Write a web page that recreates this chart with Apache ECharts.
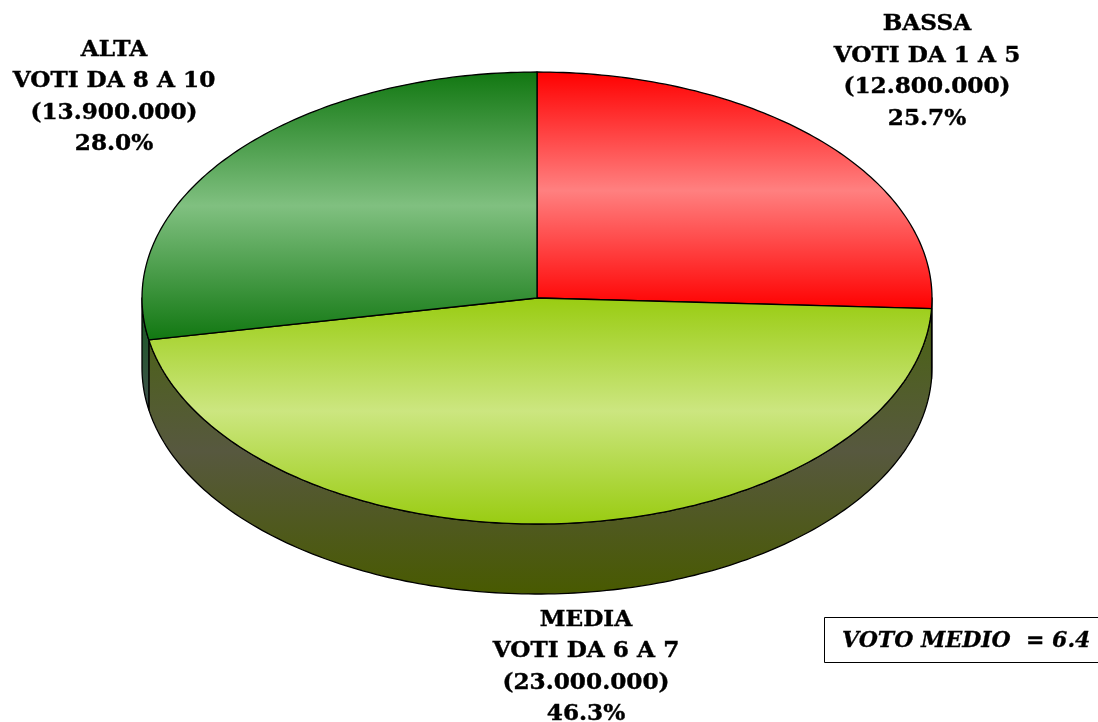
<!DOCTYPE html>
<html><head><meta charset="utf-8">
<style>html,body{margin:0;padding:0;background:#fff}#c{width:1098px;height:722px}</style>
<script src="https://cdn.jsdelivr.net/npm/echarts@6/dist/echarts.min.js"></script>
</head><body><div id="c"></div>
<script>
const categories = ['BASSA', 'MEDIA', 'ALTA'];
const voteRanges = ['VOTI DA 1 A 5', 'VOTI DA 6 A 7', 'VOTI DA 8 A 10'];
const voteCounts = [12800000, 23000000, 13900000];
const countLabels = ['(12.800.000)', '(23.000.000)', '(13.900.000)'];
const shareLabels = ['25.7%', '46.3%', '28.0%'];
const averageLabel = 'VOTO MEDIO  = 6.4';

const edgeColors = ['#ff0000', '#99cc11', '#117711'];
const midColors = ['#ff8080', '#cce680', '#80c080'];
const wallStops = [
  [[0, '#ff0000'], [1, '#aa0000']],
  [[0, '#4a6410'], [0.5, '#57583f'], [1, '#485a00']],
  [[0, '#14591e'], [1, '#40504c']]
];
const labelCentres = [[927, 71.5], [586, 667], [114, 97]];

const CX = 537, CY = 298, RX = 395, RY = 226, DEPTH = 70, FONT = '"DejaVu Serif", serif';
const total = voteCounts.reduce((a, b) => a + b, 0);
const pt = (t, dy) => [CX + RX * Math.sin(t), CY - RY * Math.cos(t) + (dy || 0)];
function arc(a, b, dy) {
  const n = Math.max(2, Math.ceil(Math.abs(b - a) * 60)), out = [];
  for (let i = 0; i <= n; i++) out.push(pt(a + (b - a) * i / n, dy));
  return out;
}
function span(api, idx) {
  let before = 0;
  for (let i = 0; i < idx; i++) before += voteCounts[i];
  const v = api.value(0);
  return [before / total * 2 * Math.PI, (before + v) / total * 2 * Math.PI];
}
const line = { stroke: '#000', lineWidth: 1.3, lineJoin: 'round' };
const grad = stops => ({ type: 'linear', x: 0, y: 0, x2: 0, y2: 1,
  colorStops: stops.map(s => ({ offset: s[0], color: s[1] })) });

function renderWall(params, api) {
  const [a, b] = span(api, params.dataIndex);
  const lo = Math.max(a, Math.PI / 2), hi = Math.min(b, 3 * Math.PI / 2);
  if (hi <= lo) return { type: 'group', children: [] };
  const pts = arc(lo, hi, 0).concat(arc(hi, lo, DEPTH));
  return { type: 'polygon', shape: { points: pts },
    style: Object.assign({ fill: grad(wallStops[params.dataIndex]) }, line) };
}
function renderTop(params, api) {
  const [a, b] = span(api, params.dataIndex);
  const pts = [[CX, CY]].concat(arc(a, b, 0));
  const i = params.dataIndex;
  return { type: 'polygon', shape: { points: pts },
    style: Object.assign({ fill: grad([[0, edgeColors[i]], [0.5, midColors[i]], [1, edgeColors[i]]]) }, line) };
}
const textEls = categories.map((c, i) => ({
  type: 'text', x: labelCentres[i][0], y: labelCentres[i][1], z: 10,
  style: { text: [c, voteRanges[i], countLabels[i], shareLabels[i]].join('\n'),
    font: 'bold 23.2px ' + FONT, lineHeight: 31.6, fill: '#000', stroke: '#000', lineWidth: 0.4,
    align: 'center', verticalAlign: 'middle' }
}));
const chart = echarts.init(document.getElementById('c'), null, { renderer: 'canvas' });
chart.setOption({
  animation: false,
  backgroundColor: '#fff',
  series: [
    { type: 'custom', coordinateSystem: 'none', z: 1, renderItem: renderWall, data: voteCounts.map(v => [v]), silent: true },
    { type: 'custom', coordinateSystem: 'none', z: 2, renderItem: renderTop, data: voteCounts.map(v => [v]), silent: true }
  ],
  graphic: textEls.concat([
    { type: 'rect', shape: { x: 824.5, y: 617.5, width: 280, height: 45 }, z: 9,
      style: { fill: '#fff', stroke: '#000', lineWidth: 1 } },
    { type: 'text', x: 842, y: 641, z: 10,
      style: { text: averageLabel, font: 'italic bold 22px ' + FONT, fill: '#000', stroke: '#000', lineWidth: 0.3,
        align: 'left', verticalAlign: 'middle' } }
  ])
});
</script></body></html>
